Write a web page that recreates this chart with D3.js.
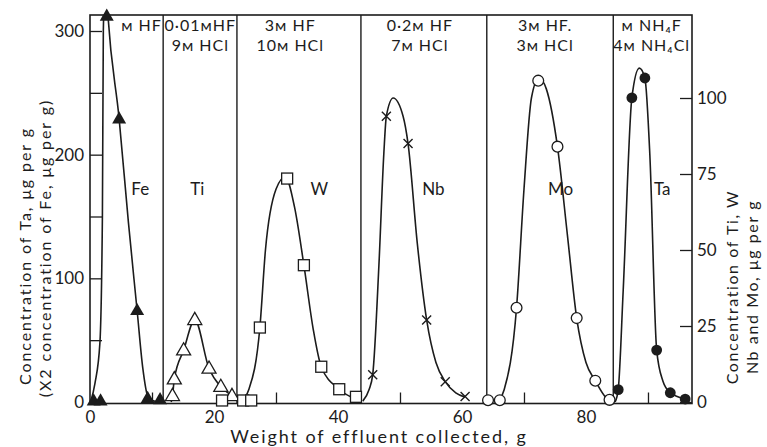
<!DOCTYPE html>
<html>
<head>
<meta charset="utf-8">
<script src="https://cdn.jsdelivr.net/npm/d3@7/dist/d3.min.js"></script>
<style>
  html, body { margin: 0; padding: 0; background: #fff; }
  svg { display: block; }
  text { font-family: Lato, "DejaVu Sans", sans-serif; fill: #1c1c1c; }
</style>
</head>
<body>
<svg id="chart" width="767" height="447"></svg>
<script>
// ---- Axis ticks -------------------------------------------------------
const xLabelTicks = [0, 20, 40, 60, 80];
const xMinorTicks = [10, 30, 50, 70, 90];
const leftTicks = [0, 50, 100, 150, 200, 250, 300];
const leftLabelTicks = [0, 100, 200, 300];
const rightTicks = [0, 25, 50, 75, 100];

// Eluant changes (weight of effluent, g)
const dividers = [11.8, 23.7, 43.7, 64.0, 84.4];

// Eluant labels (molarity written with a small capital ᴍ) and their centre x (g)
const eluantX = [8.3, 17.8, 32.3, 53.2, 73.4, 90.6];
const eluantLines = [
  ["ᴍ HF"],
  ["0·01ᴍHF", "9ᴍ HCl"],
  ["3ᴍ HF", "10ᴍ HCl"],
  ["0·2ᴍ HF", "7ᴍ HCl"],
  ["3ᴍ HF.", "3ᴍ HCl"],
  ["ᴍ NH₄F", "4ᴍ NH₄Cl"]
];

// Element names and their x position (g)
const elementNames = ["Fe", "Ti", "W", "Nb", "Mo", "Ta"];
const elementX = [8.1, 17.3, 37.0, 55.4, 75.9, 92.3];

// ---- Measured points [g, concentration] ------------------------------
// Fe and Ta on the left axis, Ti, W, Nb and Mo on the right axis
const fePoints = [[0.6, 1], [1.7, 1], [2.7, 312], [4.7, 229], [7.6, 74], [9.3, 3], [11.3, 2]];
const tiPoints = [[13.3, 2], [13.6, 7.5], [15.1, 17], [16.9, 27], [19.2, 11], [21.1, 5], [22.9, 2]];
const wPoints  = [[21.3, 0.5], [24.7, 0.5], [26.0, 0.5], [27.4, 24.5], [31.8, 73.5], [34.5, 45], [37.3, 11.6], [40.2, 4.2], [42.9, 1.7]];
const nbPoints = [[45.6, 9], [47.8, 94], [51.3, 85], [54.3, 27], [57.3, 6.7], [60.5, 1.8]];
const moPoints = [[64.2, 0.6], [66.1, 0.6], [68.8, 31], [72.3, 105.7], [75.4, 84], [78.5, 27.6], [81.5, 7], [83.8, 0.7]];
const taPoints = [[85.2, 10], [87.4, 246], [89.5, 262], [91.4, 42], [93.6, 7.5], [96.0, 2.4]];

// ---- Elution curves drawn through the points [g, concentration] ------
const feCurve = [[0.1, 0], [0.8, 15], [1.6, 48], [2.0, 150], [2.15, 300], [2.5, 345], [2.9, 312], [4.7, 229], [6.2, 145], [7.6, 74], [8.5, 28], [9.3, 5], [10.2, 1], [11.2, 0]];
const tiCurve = [[13.1, 0], [13.3, 2], [13.6, 7.5], [15.1, 17], [16.9, 27], [19.2, 11], [21.1, 5], [22.9, 2], [23.6, 0.6]];
const wCurve  = [[24.3, 0], [25.6, 4], [27.4, 24.5], [28.3, 50], [30.0, 70], [31.5, 74], [33.0, 64], [34.5, 45], [36.0, 24], [37.3, 11.6], [40.2, 4.2], [42.9, 1.0], [43.6, 0.6]];
const nbCurve = [[44.0, 0.3], [45.0, 4], [45.6, 9], [46.6, 45], [47.4, 82], [47.8, 94], [48.9, 100], [50.5, 94], [51.3, 85], [52.8, 52], [54.3, 27], [55.8, 13], [57.3, 6.7], [59.0, 3], [60.5, 1.6]];
const moCurve = [[65.9, 0], [66.8, 4], [68.8, 31], [70.0, 70], [71.2, 100], [72.4, 106.6], [73.6, 103], [75.4, 84], [77.0, 55], [78.5, 27.6], [80.0, 13], [81.5, 7], [83.0, 2], [83.9, 0.5]];
const taCurve = [[84.7, 0], [85.2, 10], [86.0, 90], [87.4, 246], [88.6, 270], [89.5, 262], [90.3, 200], [91.4, 42], [92.4, 17], [93.6, 7.5], [96.0, 2.4]];

// ---- Layout -----------------------------------------------------------
const W = 767, H = 447;
const plot = { left: 90, right: 692, top: 15, bottom: 403.5 };
const ink = "#1c1c1c";

const svg = d3.select("#chart");
svg.append("rect").attr("width", W).attr("height", H).attr("fill", "#fff");

const x = d3.scaleLinear().domain([0, 97.1]).range([plot.left, plot.right]);
const yL = d3.scaleLinear().domain([0, 300]).range([402, 31]);
const yR = d3.scaleLinear().domain([0, 100]).range([402, 98]);

svg.append("clipPath").attr("id", "plotClip")
  .append("rect")
  .attr("x", plot.left).attr("y", plot.top)
  .attr("width", plot.right - plot.left).attr("height", plot.bottom - plot.top);

// Frame
svg.append("rect")
  .attr("x", plot.left).attr("y", plot.top)
  .attr("width", plot.right - plot.left).attr("height", plot.bottom - plot.top)
  .attr("fill", "none").attr("stroke", ink).attr("stroke-width", 1.6);

// Eluant dividers
svg.append("g").selectAll("line").data(dividers).join("line")
  .attr("x1", d => x(d)).attr("x2", d => x(d))
  .attr("y1", plot.top).attr("y2", plot.bottom)
  .attr("stroke", ink).attr("stroke-width", 1.4);

// Bottom axis: inward minor ticks, labels at even tens
const gx = svg.append("g").attr("transform", `translate(0,${plot.bottom})`);
gx.call(d3.axisTop(x).tickValues(xMinorTicks).tickSize(11).tickFormat(""));
gx.select(".domain").remove();
gx.selectAll("line").attr("stroke", ink).attr("stroke-width", 1.3);
const gxl = svg.append("g").attr("transform", `translate(0,${plot.bottom})`);
gxl.call(d3.axisBottom(x).tickValues(xLabelTicks).tickSize(0).tickPadding(7).tickFormat(d3.format("d")));
gxl.select(".domain").remove();
gxl.selectAll("text").attr("font-size", 17).attr("fill", ink)
  .style("font-family", "Lato, sans-serif");

// Left axis: inward ticks
const gl = svg.append("g").attr("transform", `translate(${plot.left},0)`);
gl.call(d3.axisRight(yL).tickValues(leftTicks).tickSize(12)
  .tickFormat(d => leftLabelTicks.includes(d) ? d : ""));
gl.select(".domain").remove();
gl.selectAll("line").attr("stroke", ink).attr("stroke-width", 1.3);
gl.selectAll("text").attr("x", -6).attr("text-anchor", "end")
  .attr("font-size", 17).attr("fill", ink).style("font-family", "Lato, sans-serif");

// Right axis: inward ticks, labels outside
const gr = svg.append("g").attr("transform", `translate(${plot.right},0)`);
gr.call(d3.axisLeft(yR).tickValues(rightTicks).tickSize(12).tickFormat(d3.format("d")));
gr.select(".domain").remove();
gr.selectAll("line").attr("stroke", ink).attr("stroke-width", 1.3);
gr.selectAll("text").attr("x", 5).attr("text-anchor", "start")
  .attr("font-size", 17).attr("fill", ink).style("font-family", "Lato, sans-serif");

// Curves
const curves = [
  { data: feCurve, y: yL }, { data: tiCurve, y: yR }, { data: wCurve, y: yR },
  { data: nbCurve, y: yR }, { data: moCurve, y: yR }, { data: taCurve, y: yL }
];
const gCurves = svg.append("g").attr("clip-path", "url(#plotClip)");
curves.forEach(c => {
  const line = d3.line().x(d => x(d[0])).y(d => c.y(d[1])).curve(d3.curveMonotoneX);
  gCurves.append("path").attr("d", line(c.data))
    .attr("fill", "none").attr("stroke", ink).attr("stroke-width", 1.6);
});

// Markers
function triangle(s) {
  const h = s * 0.87;
  return `M0,${-h * 0.62}L${s / 2},${h * 0.38}L${-s / 2},${h * 0.38}Z`;
}
const gMarks = svg.append("g");
function marks(data, y, draw) {
  data.forEach(d => {
    const g = gMarks.append("g").attr("transform", `translate(${x(d[0])},${Math.max(y(d[1]), plot.top)})`);
    draw(g);
  });
}
marks(fePoints, yL, g => g.append("path").attr("d", triangle(14)).attr("fill", ink));
marks(tiPoints, yR, g => g.append("path").attr("d", triangle(14))
  .attr("fill", "#fff").attr("stroke", ink).attr("stroke-width", 1.3));
marks(wPoints, yR, g => g.append("rect").attr("x", -5.5).attr("y", -5.5).attr("width", 11).attr("height", 11)
  .attr("fill", "#fff").attr("stroke", ink).attr("stroke-width", 1.3));
marks(nbPoints, yR, g => g.append("path").attr("d", "M-4.5,-4.5L4.5,4.5M4.5,-4.5L-4.5,4.5")
  .attr("stroke", ink).attr("stroke-width", 1.4));
marks(moPoints, yR, g => g.append("circle").attr("r", 5.4)
  .attr("fill", "#fff").attr("stroke", ink).attr("stroke-width", 1.3));
marks(taPoints, yL, g => g.append("circle").attr("r", 5.4).attr("fill", ink));

// Eluant labels, two lines per section
const gEl = svg.append("g");
eluantLines.forEach((lines, k) => {
  lines.forEach((s, i) => {
    gEl.append("text").attr("x", x(eluantX[k])).attr("y", 31 + i * 19.5)
      .attr("text-anchor", "middle").attr("font-size", 16).attr("letter-spacing", 1.0).text(s);
  });
});

// Element names
svg.append("g").selectAll("text").data(elementNames).join("text")
  .attr("x", (d, i) => x(elementX[i])).attr("y", 195)
  .attr("text-anchor", "middle").attr("font-size", 17).text(d => d);

// Axis titles
svg.append("text").attr("x", 379).attr("y", 443).attr("text-anchor", "middle")
  .attr("font-size", 18).attr("letter-spacing", 1.9).text("Weight of effluent collected, g");

const leftTitle = ["Concentration of Ta, μg per g", "(X2 concentration of Fe, μg per g)"];
leftTitle.forEach((s, i) => {
  svg.append("text").attr("transform", `translate(${31 + i * 19.5},${[256, 248][i]}) rotate(-90)`)
    .attr("text-anchor", "middle").attr("font-size", 16).attr("letter-spacing", 1.9).text(s);
});
const rightTitle = ["Concentration of Ti, W", "Nb and Mo, μg per g"];
rightTitle.forEach((s, i) => {
  svg.append("text").attr("transform", `translate(${738 + i * 19.5},287) rotate(-90)`)
    .attr("text-anchor", "middle").attr("font-size", 16).attr("letter-spacing", 1.6).text(s);
});
</script>
</body>
</html>
